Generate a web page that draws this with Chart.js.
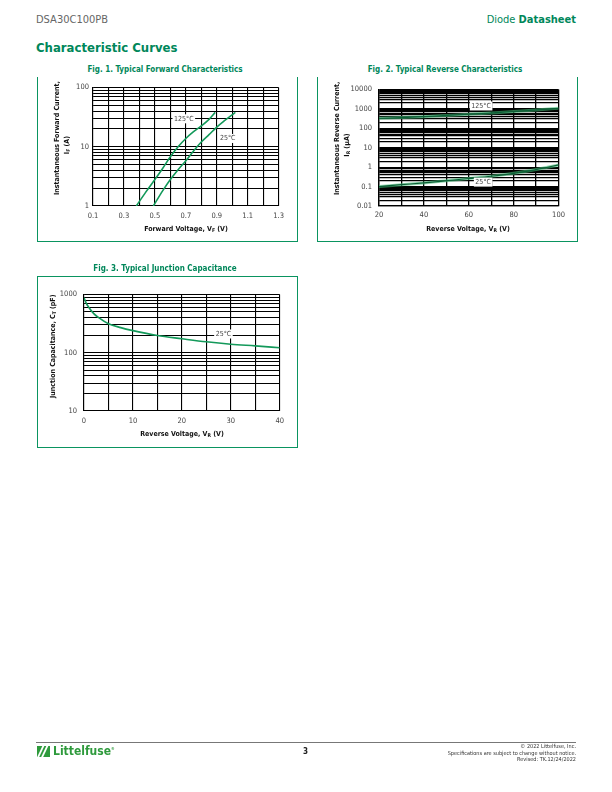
<!DOCTYPE html>
<html><head><meta charset="utf-8">
<script src="https://cdn.jsdelivr.net/npm/chart.js@4.4.1/dist/chart.umd.min.js"></script>
<style>
body{margin:0;background:#fff;}
#page{position:relative;width:612px;height:792px;overflow:hidden;font-family:'Liberation Sans Narrow','DejaVu Sans Condensed','Arial Narrow',sans-serif;color:#222;}
.abs{position:absolute;white-space:nowrap;}
.frame{position:absolute;border:1px solid #0a9460;box-sizing:border-box;}
.fig{font-weight:bold;color:#00875a;font-size:8px;text-align:center;width:240px;}
.ax{font-weight:bold;font-size:7px;line-height:8px;color:#111;text-align:center;}
.ax sub{font-size:5px;vertical-align:-1px;line-height:0;}
.rot{transform:rotate(-90deg);}
canvas{position:absolute;}
</style></head>
<body><div id="page">
<div class="abs" style="left:36px;top:13px;font-size:11px;color:#666;">DSA30C100PB</div>
<div class="abs" style="right:36px;top:13px;font-size:11px;color:#00875a;">Diode <b>Datasheet</b></div>
<div class="abs" style="left:36px;top:40px;font-size:13px;font-weight:bold;color:#00875a;">Characteristic Curves</div>

<div class="abs fig" style="left:45px;top:65px;">Fig. 1. Typical Forward Characteristics</div>
<div class="frame" style="left:37px;top:77px;width:261px;height:165px;border-top:none;"></div>
<canvas id="c1" width="252" height="150" style="left:38px;top:79px;"></canvas>
<div class="abs ax rot" style="left:7px;top:141px;width:100px;">Instantaneous Forward Current,</div>
<div class="abs ax rot" style="left:17px;top:141px;width:100px;">I<sub>F</sub> (A)</div>
<div class="abs ax" style="left:136px;top:225px;width:100px;">Forward Voltage, V<sub>F</sub> (V)</div>

<div class="abs fig" style="left:325px;top:65px;">Fig. 2. Typical Reverse Characteristics</div>
<div class="frame" style="left:317px;top:77px;width:261px;height:165px;border-top:none;"></div>
<canvas id="c2" width="252" height="151" style="left:318px;top:78px;"></canvas>
<div class="abs ax rot" style="left:287px;top:141px;width:100px;">Instantaneous Reverse Current,</div>
<div class="abs ax rot" style="left:297px;top:141px;width:100px;">I<sub>R</sub> (µA)</div>
<div class="abs ax" style="left:418px;top:225px;width:100px;">Reverse Voltage, V<sub>R</sub> (V)</div>

<div class="abs fig" style="left:45px;top:264px;">Fig. 3. Typical Junction Capacitance</div>
<div class="frame" style="left:37px;top:276px;width:261px;height:172px;"></div>
<canvas id="c3" width="252" height="150" style="left:38px;top:283px;"></canvas>
<div class="abs ax rot" style="left:3px;top:344px;width:100px;">Junction Capacitance, C<sub>T</sub> (pF)</div>
<div class="abs ax" style="left:132px;top:430px;width:100px;">Reverse Voltage, V<sub>R</sub> (V)</div>

<div class="abs" style="left:36px;top:742px;width:540px;height:1px;background:#777;"></div>
<div class="abs" style="left:37px;top:746px;width:13px;height:11px;background:#2e9a3c;overflow:hidden;">
  <div style="position:absolute;left:3px;top:-2px;width:2px;height:14px;background:#fff;transform:skewX(-25deg);"></div>
  <div style="position:absolute;left:7px;top:-2px;width:2px;height:14px;background:#fff;transform:skewX(-25deg);"></div>
</div>
<div class="abs" style="left:53px;top:744px;font-size:12px;font-weight:bold;color:#2e9a3c;">Littelfuse<sup style="font-size:4px;">®</sup></div>
<div class="abs" style="left:303px;top:747px;font-size:8px;font-weight:bold;">3</div>
<div class="abs" style="right:36px;top:743px;font-size:5.5px;line-height:6.5px;text-align:right;color:#333;">© 2022 Littelfuse, Inc.<br>Specifications are subject to change without notice.<br>Revised: TK.12/24/2022</div>
</div>
<script>
const FONT = "'Liberation Sans Narrow','DejaVu Sans Condensed','Arial Narrow',sans-serif";

// Fig. 1 forward characteristics
const fwdV125 = [0.38, 0.44, 0.50, 0.55, 0.60, 0.65, 0.70, 0.75, 0.80, 0.85, 0.89];
const fwdI125 = [1, 1.7, 2.8, 4.3, 6.8, 10, 13.8, 18, 22.5, 29, 38];
const fwdV25 = [0.49, 0.55, 0.60, 0.65, 0.70, 0.75, 0.80, 0.85, 0.90, 0.95, 1.02];
const fwdI25 = [1, 1.8, 2.8, 4.1, 5.8, 8.5, 12, 16, 21.5, 27.5, 38];
const fwdXTicks = [0.1, 0.2, 0.3, 0.4, 0.5, 0.6, 0.7, 0.8, 0.9, 1.0, 1.1, 1.2, 1.3];

// Fig. 2 reverse characteristics
const revV = [20, 30, 40, 50, 60, 70, 80, 90, 100];
const revI125 = [330, 360, 400, 460, 530, 620, 730, 880, 1080];
const revI25 = [0.1, 0.125, 0.155, 0.2, 0.26, 0.34, 0.48, 0.75, 1.3];
const revXTicks = [20, 30, 40, 50, 60, 70, 80, 90, 100];
const revXLabels = [20, 40, 60, 80, 100];

// Fig. 3 junction capacitance
const capV = [0, 0.5, 1, 2, 3, 5, 7.5, 10, 15, 20, 25, 30, 35, 40];
const capC = [880, 700, 600, 470, 400, 315, 270, 240, 198, 174, 154, 140, 131, 122];
const capXTicks = [0, 5, 10, 15, 20, 25, 30, 35, 40];
const capXLabels = [0, 10, 20, 30, 40];

// curve labels [x, y, text]
const fwdLabels = [[0.687, 29.6, '125°C'], [0.971, 13.8, '25°C']];
const revLabels = [[65.5, 1419, '125°C'], [66.4, 0.17, '25°C']];
const capLabels = [[28.5, 210, '25°C']];

const GREEN = '#13995a';

function logTicks(min, max) {
  const t = [];
  for (let e = Math.round(Math.log10(min)); e < Math.round(Math.log10(max)); e++) {
    for (let k = 1; k < 10; k++) t.push(+(k * Math.pow(10, e)).toPrecision(3));
  }
  t.push(max);
  return t;
}
const isDecade = v => Math.abs(Math.log10(v) - Math.round(Math.log10(v))) < 1e-6;
const pts = (xs, ys) => xs.map((x, i) => ({x, y: ys[i]}));

const curveLabels = {
  id: 'curveLabels',
  afterDatasetsDraw(chart, args, opts) {
    const {ctx, scales: {x, y}} = chart;
    ctx.save();
    ctx.font = '7px ' + FONT;
    ctx.textAlign = 'center'; ctx.textBaseline = 'middle';
    (opts.items || []).forEach(([lx, ly, text]) => {
      const px = x.getPixelForValue(lx), py = y.getPixelForValue(ly);
      const w = ctx.measureText(text).width + 3;
      ctx.fillStyle = '#fff'; ctx.fillRect(px - w / 2, py - 4.5, w, 9);
      ctx.fillStyle = '#444'; ctx.fillText(text, px, py);
    });
    ctx.restore();
  }
};

function plot(id, c) {
  const cv = document.getElementById(id);
  return new Chart(cv.getContext('2d'), {
    type: 'line',
    data: {datasets: c.datasets},
    options: {
      responsive: false, animation: false,
      layout: {padding: {top: c.pad[0], right: c.pad[1], bottom: 0, left: 0}},
      plugins: {legend: {display: false}, tooltip: {enabled: false}, curveLabels: {items: c.labels}},
      elements: {point: {radius: 0}, line: {cubicInterpolationMode: 'monotone'}},
      scales: {
        x: {type: 'linear', min: c.xmin, max: c.xmax,
          afterBuildTicks: s => { s.ticks = c.xticks.map(v => ({value: v})); },
          afterFit: s => { s.height = c.xh; },
          grid: {color: '#000', lineWidth: c.lw, drawTicks: false},
          border: {color: '#000', width: c.lw},
          ticks: {padding: c.xpad, autoSkip: false, maxRotation: 0, color: '#444', font: {family: FONT, size: 7.5}, callback: c.xfmt}},
        y: {type: 'logarithmic', min: c.ymin, max: c.ymax,
          afterBuildTicks: s => { s.ticks = logTicks(c.ymin, c.ymax).map(v => ({value: v})); },
          afterFit: s => { s.width = c.yw; },
          grid: {color: '#000', lineWidth: c.lw, drawTicks: false},
          border: {color: '#000', width: c.lw},
          ticks: {padding: c.ypad, autoSkip: false, color: '#444', font: {family: FONT, size: 7.5},
            callback: v => isDecade(v) ? String(v) : ''}}
      }
    },
    plugins: [curveLabels]
  });
}

plot('c1', {
  datasets: [
    {data: pts(fwdV125, fwdI125), borderColor: GREEN, borderWidth: 1.6},
    {data: pts(fwdV25, fwdI25), borderColor: GREEN, borderWidth: 1.6}
  ],
  labels: fwdLabels, pad: [6, 8], xh: 23, yw: 55, lw: 1.1, xpad: 6, ypad: 4,
  xmin: 0.1, xmax: 1.3, xticks: fwdXTicks, ymin: 1, ymax: 100,
  xfmt: v => Math.round(v * 10) % 2 === 1 ? v.toFixed(1) : ''
});

plot('c2', {
  datasets: [
    {data: pts(revV, revI125), borderColor: '#0b5e36', borderWidth: 1.2, order: 1},
    {data: pts(revV, revI125), borderColor: 'rgba(70,190,120,0.6)', borderWidth: 3, order: 2},
    {data: pts(revV, revI25), borderColor: '#0b5e36', borderWidth: 1.2, order: 1},
    {data: pts(revV, revI25), borderColor: 'rgba(70,190,120,0.6)', borderWidth: 3, order: 2}
  ],
  labels: revLabels, pad: [6, 9], xh: 23, yw: 61, lw: 1.3, xpad: 5, ypad: 7,
  xmin: 20, xmax: 100, xticks: revXTicks, ymin: 0.01, ymax: 10000,
  xfmt: v => revXLabels.includes(v) ? String(v) : ''
});

plot('c3', {
  datasets: [
    {data: pts(capV, capC), borderColor: GREEN, borderWidth: 1.6}
  ],
  labels: capLabels, pad: [7, 8], xh: 22, yw: 46, lw: 1.1, xpad: 6, ypad: 7,
  xmin: 0, xmax: 40, xticks: capXTicks, ymin: 10, ymax: 1000,
  xfmt: v => capXLabels.includes(v) ? String(v) : ''
});
</script>
</body></html>
